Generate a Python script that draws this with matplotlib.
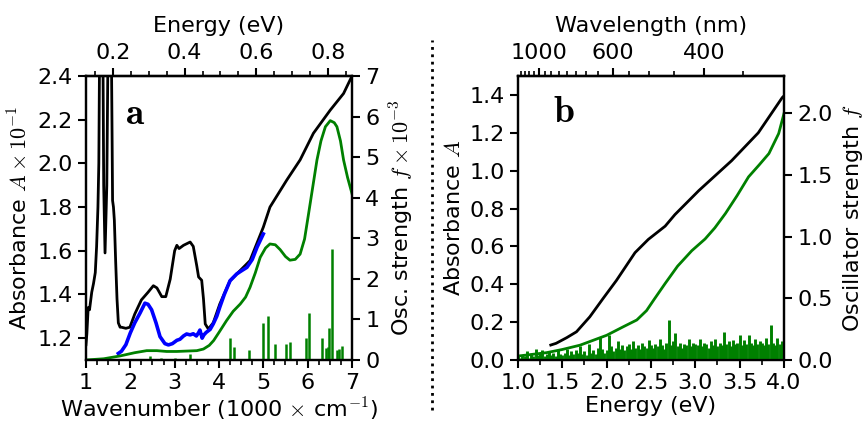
import matplotlib
matplotlib.use('Agg')
import matplotlib.pyplot as plt
import numpy as np
from matplotlib.ticker import FixedLocator, MultipleLocator, FormatStrFormatter
from matplotlib.lines import Line2D

plt.rcParams['font.family'] = ['DejaVu Sans']
plt.rcParams['mathtext.fontset'] = 'cm'
plt.rcParams['font.size'] = 16

# ---- panel a: experiment (left axis, A x 10^-1) ----
wn_exp = [1.00, 1.02, 1.05, 1.08, 1.13, 1.17, 1.21, 1.24, 1.27, 1.29, 1.31, 1.35,
          1.38, 1.40, 1.43, 1.47, 1.50, 1.53, 1.57, 1.59, 1.60, 1.62, 1.64, 1.67,
          1.70, 1.73, 1.77, 1.80, 1.90, 1.99, 2.10, 2.25, 2.40, 2.52, 2.60, 2.71,
          2.80, 2.90, 3.00, 3.05, 3.10, 3.20, 3.35, 3.42, 3.50, 3.54, 3.61, 3.65,
          3.69, 3.76, 3.87, 4.02, 4.25, 4.48, 4.70, 5.00, 5.15, 5.53, 5.83, 6.13,
          6.51, 6.81, 7.00]
abs_exp = [1.17, 1.22, 1.34, 1.33, 1.41, 1.45, 1.50, 1.62, 1.80, 2.00, 2.60, 3.00,
           2.60, 1.90, 1.59, 1.90, 2.60, 3.00, 2.60, 2.10, 1.83, 1.80, 1.74, 1.55,
           1.38, 1.27, 1.25, 1.25, 1.245, 1.25, 1.31, 1.375, 1.41, 1.44, 1.43, 1.39,
           1.39, 1.47, 1.60, 1.625, 1.61, 1.625, 1.64, 1.62, 1.53, 1.48, 1.465, 1.38,
           1.265, 1.242, 1.27, 1.357, 1.463, 1.51, 1.555, 1.708, 1.80, 1.924, 2.016, 2.138,
           2.244, 2.32, 2.40]

wn_blue = [1.73, 1.80, 1.90, 2.00, 2.10, 2.22, 2.33, 2.40, 2.48, 2.58, 2.67, 2.78,
           2.86, 2.95, 3.05, 3.12, 3.20, 3.27, 3.35, 3.42, 3.49, 3.54, 3.57, 3.60,
           3.62, 3.66, 3.71, 3.80, 3.87, 3.95, 4.02, 4.12, 4.25, 4.40, 4.52, 4.63,
           4.75, 4.86, 5.00]
abs_blue = [1.13, 1.14, 1.17, 1.224, 1.27, 1.315, 1.36, 1.355, 1.33, 1.27, 1.207, 1.175,
            1.169, 1.175, 1.19, 1.195, 1.21, 1.219, 1.215, 1.22, 1.21, 1.225, 1.237, 1.215,
            1.20, 1.215, 1.226, 1.24, 1.265, 1.30, 1.343, 1.40, 1.463, 1.494, 1.51, 1.524,
            1.56, 1.617, 1.677]

# ---- panel a: calculation (right axis, f x 10^-3) ----
wn_calc = [1.0, 1.4, 1.77, 2.1, 2.37, 2.6, 2.82, 3.05, 3.27, 3.5, 3.65, 3.78, 3.88,
           4.0, 4.17, 4.32, 4.48, 4.60, 4.70, 4.82, 4.93, 5.05, 5.15, 5.27, 5.38,
           5.50, 5.6, 5.72, 5.83, 5.93, 6.02, 6.12, 6.21, 6.30, 6.40, 6.51, 6.60,
           6.66, 6.74, 6.81, 6.90, 7.0]
f_calc = [0.0, 0.03, 0.1, 0.18, 0.23, 0.23, 0.21, 0.21, 0.22, 0.23, 0.27, 0.36, 0.48,
          0.68, 0.97, 1.2, 1.38, 1.55, 1.79, 2.15, 2.53, 2.76, 2.86, 2.84, 2.72,
          2.55, 2.46, 2.48, 2.61, 2.98, 3.6, 4.3, 4.93, 5.4, 5.75, 5.9, 5.85,
          5.75, 5.4, 4.93, 4.5, 4.1]

wn_sticks = [1.90, 2.45, 2.69, 3.00, 3.35, 4.24, 4.34, 4.68, 5.00, 5.10, 5.27, 5.52,
             5.60, 5.97, 6.02, 6.32, 6.41, 6.45, 6.49, 6.55, 6.66, 6.70, 6.77, 7.00]
f_sticks = [0.03, 0.10, 0.04, 0.05, 0.15, 0.53, 0.33, 0.25, 0.90, 1.08, 0.39, 0.39,
            0.44, 0.53, 1.17, 0.53, 0.30, 0.33, 0.78, 2.73, 0.25, 0.27, 0.35, 0.03]

energy_ticks_a = [0.2, 0.4, 0.6, 0.8]
energy_minor_a = [0.15, 0.25, 0.3, 0.35, 0.45, 0.5, 0.55, 0.65, 0.7, 0.75, 0.85]

# ---- panel b ----
E_exp_b = [1.37, 1.43, 1.55, 1.66, 1.81, 1.96, 2.11, 2.32, 2.47, 2.66, 2.77, 3.04,
           3.41, 3.71, 3.98, 4.0]
A_exp_b = [0.079, 0.088, 0.118, 0.149, 0.228, 0.325, 0.42, 0.567, 0.637, 0.707, 0.768,
           0.895, 1.053, 1.20, 1.386, 1.395]

E_calc_b = [1.0, 1.32, 1.50, 1.70, 1.85, 2.0, 2.19, 2.34, 2.45, 2.53, 2.66, 2.80,
            2.96, 3.11, 3.22, 3.34, 3.47, 3.60, 3.72, 3.83, 3.94, 4.0]
f_calc_b = [0.032, 0.059, 0.085, 0.12, 0.16, 0.20, 0.27, 0.324, 0.40, 0.485, 0.62, 0.76,
            0.885, 0.98, 1.07, 1.187, 1.33, 1.483, 1.58, 1.672, 1.834, 1.996]

E_sticks_b = [1.000, 1.025, 1.050, 1.075, 1.100, 1.125, 1.150, 1.175, 1.200, 1.225, 1.250,
              1.275, 1.300, 1.325, 1.350, 1.375, 1.400, 1.425, 1.450, 1.475, 1.500,
              1.525, 1.550, 1.575, 1.600, 1.625, 1.650, 1.675, 1.700, 1.725, 1.750,
              1.775, 1.800, 1.825, 1.850, 1.875, 1.900, 1.925, 1.950, 1.975, 2.000,
              2.025, 2.050, 2.075, 2.100, 2.125, 2.150, 2.175, 2.200, 2.225, 2.250,
              2.275, 2.300, 2.325, 2.350, 2.375, 2.400, 2.425, 2.450, 2.475, 2.500,
              2.525, 2.550, 2.575, 2.600, 2.625, 2.650, 2.675, 2.700, 2.725, 2.750,
              2.775, 2.800, 2.825, 2.850, 2.875, 2.900, 2.925, 2.950, 2.975, 3.000,
              3.025, 3.050, 3.075, 3.100, 3.125, 3.150, 3.175, 3.200, 3.225, 3.250,
              3.275, 3.300, 3.325, 3.350, 3.375, 3.400, 3.425, 3.450, 3.475, 3.500,
              3.525, 3.550, 3.575, 3.600, 3.625, 3.650, 3.675, 3.700, 3.725, 3.750,
              3.775, 3.800, 3.825, 3.850, 3.875, 3.900, 3.925, 3.950, 3.975, 4.000]
f_sticks_b = [0.03, 0.02, 0.04, 0.03, 0.07, 0.02, 0.05, 0.03, 0.09, 0.04, 0.06,
              0.08, 0.03, 0.05, 0.07, 0.04, 0.06, 0.03, 0.08, 0.05, 0.04,
              0.06, 0.09, 0.04, 0.07, 0.05, 0.08, 0.06, 0.11, 0.05, 0.07,
              0.04, 0.13, 0.06, 0.08, 0.05, 0.10, 0.19, 0.09, 0.06, 0.08,
              0.20, 0.11, 0.07, 0.10, 0.15, 0.09, 0.12, 0.08, 0.11, 0.13,
              0.09, 0.15, 0.10, 0.12, 0.09, 0.14, 0.11, 0.10, 0.16, 0.12,
              0.10, 0.13, 0.11, 0.17, 0.12, 0.09, 0.14, 0.32, 0.12, 0.15,
              0.22, 0.11, 0.14, 0.10, 0.13, 0.12, 0.17, 0.11, 0.14, 0.13,
              0.12, 0.17, 0.11, 0.14, 0.13, 0.10, 0.15, 0.12, 0.17, 0.11,
              0.14, 0.12, 0.23, 0.13, 0.15, 0.11, 0.16, 0.13, 0.14, 0.20,
              0.12, 0.16, 0.13, 0.20, 0.14, 0.12, 0.17, 0.13, 0.15, 0.14,
              0.12, 0.18, 0.13, 0.28, 0.14, 0.12, 0.18, 0.13, 0.15, 0.36]

wl_major_b = [1000, 600, 400]
wl_minor_b = [350, 450, 500, 550, 650, 700, 750, 800, 850, 900, 950,
              1050, 1100, 1150, 1200]

GREEN = '#008000'
HC = 1239.84  # eV nm


def style_axes(ax):
    for s in ax.spines.values():
        s.set_linewidth(1.6)
    ax.tick_params(which='major', direction='out', length=6, width=1.5, labelsize=16)
    ax.tick_params(which='minor', direction='out', length=3.5, width=1.2)


fig = plt.figure(figsize=(8.64, 4.28), dpi=100)

# ================= panel a =================
ax = fig.add_axes([0.0995, 0.1589, 0.3079, 0.6635])
axr = ax.twinx()
ax.plot(wn_exp, abs_exp, color='black', lw=2.0, zorder=3)
ax.plot(wn_blue, abs_blue, color='blue', lw=2.6, zorder=4)
axr.plot(wn_calc, f_calc, color=GREEN, lw=2.0)
axr.vlines(wn_sticks, 0, f_sticks, color=GREEN, lw=1.8)

ax.set_xlim(1, 7)
ax.set_ylim(1.1, 2.4)
axr.set_ylim(0, 7)
ax.set_xticks(range(1, 8))
ax.xaxis.set_minor_locator(MultipleLocator(0.25))
ax.set_yticks([1.2, 1.4, 1.6, 1.8, 2.0, 2.2, 2.4])
ax.yaxis.set_major_formatter(FormatStrFormatter('%.1f'))
axr.set_yticks(range(0, 8))
ax.set_xlabel(r'Wavenumber (1000 $\times$ cm$^{-1}$)', labelpad=2)
ax.set_ylabel(r'Absorbance $A \times 10^{-1}$', labelpad=4)
axr.set_ylabel(r'Osc. strength $f \times 10^{-3}$', labelpad=6)
style_axes(ax)
style_axes(axr)

secA = ax.secondary_xaxis('top', functions=(lambda w: w * 0.123984,
                                            lambda e: e / 0.123984))
secA.set_xticks(energy_ticks_a)
secA.xaxis.set_minor_locator(FixedLocator(energy_minor_a))
secA.xaxis.set_major_formatter(FormatStrFormatter('%.1f'))
secA.set_xlabel('Energy (eV)', labelpad=8)
style_axes(secA)

ax.text(0.184, 0.865, r'$\mathbf{a}$', transform=ax.transAxes, fontsize=27,
        ha='center', va='center')

# ================= panel b =================
bx = fig.add_axes([0.5995, 0.1589, 0.3079, 0.6635])
bxr = bx.twinx()
bx.plot(E_exp_b, A_exp_b, color='black', lw=2.0, zorder=3)
bxr.vlines(E_sticks_b, 0, f_sticks_b, color=GREEN, lw=2.1)
bxr.plot(E_calc_b, f_calc_b, color=GREEN, lw=2.0)

bx.set_xlim(1, 4)
bx.set_ylim(0, 1.5)
bxr.set_ylim(0, 2.3)
bx.set_xticks([1.0, 1.5, 2.0, 2.5, 3.0, 3.5, 4.0])
bx.xaxis.set_minor_locator(MultipleLocator(0.25))
bx.xaxis.set_major_formatter(FormatStrFormatter('%.1f'))
bx.set_yticks([0.0, 0.2, 0.4, 0.6, 0.8, 1.0, 1.2, 1.4])
bx.yaxis.set_major_formatter(FormatStrFormatter('%.1f'))
bxr.set_yticks([0.0, 0.5, 1.0, 1.5, 2.0])
bxr.yaxis.set_major_formatter(FormatStrFormatter('%.1f'))
bx.set_xlabel('Energy (eV)', labelpad=2)
bx.set_ylabel(r'Absorbance $A$', labelpad=4)
bxr.set_ylabel(r'Oscillator strength $f$', labelpad=6)
style_axes(bx)
style_axes(bxr)


def e2wl(x):
    x = np.asarray(x, dtype=float)
    with np.errstate(divide='ignore'):
        return HC / x


secB = bx.secondary_xaxis('top', functions=(e2wl, e2wl))
secB.set_xticks(wl_major_b)
secB.xaxis.set_minor_locator(FixedLocator(wl_minor_b))
secB.set_xlabel('Wavelength (nm)', labelpad=8)
style_axes(secB)

bx.text(0.173, 0.873, r'$\mathbf{b}$', transform=bx.transAxes, fontsize=27,
        ha='center', va='center')

# dotted separator
fig.add_artist(Line2D([0.5, 0.5], [0.042, 0.907], transform=fig.transFigure,
                      color='black', lw=2, linestyle=':'))

fig.savefig('out.png', dpi=100)
